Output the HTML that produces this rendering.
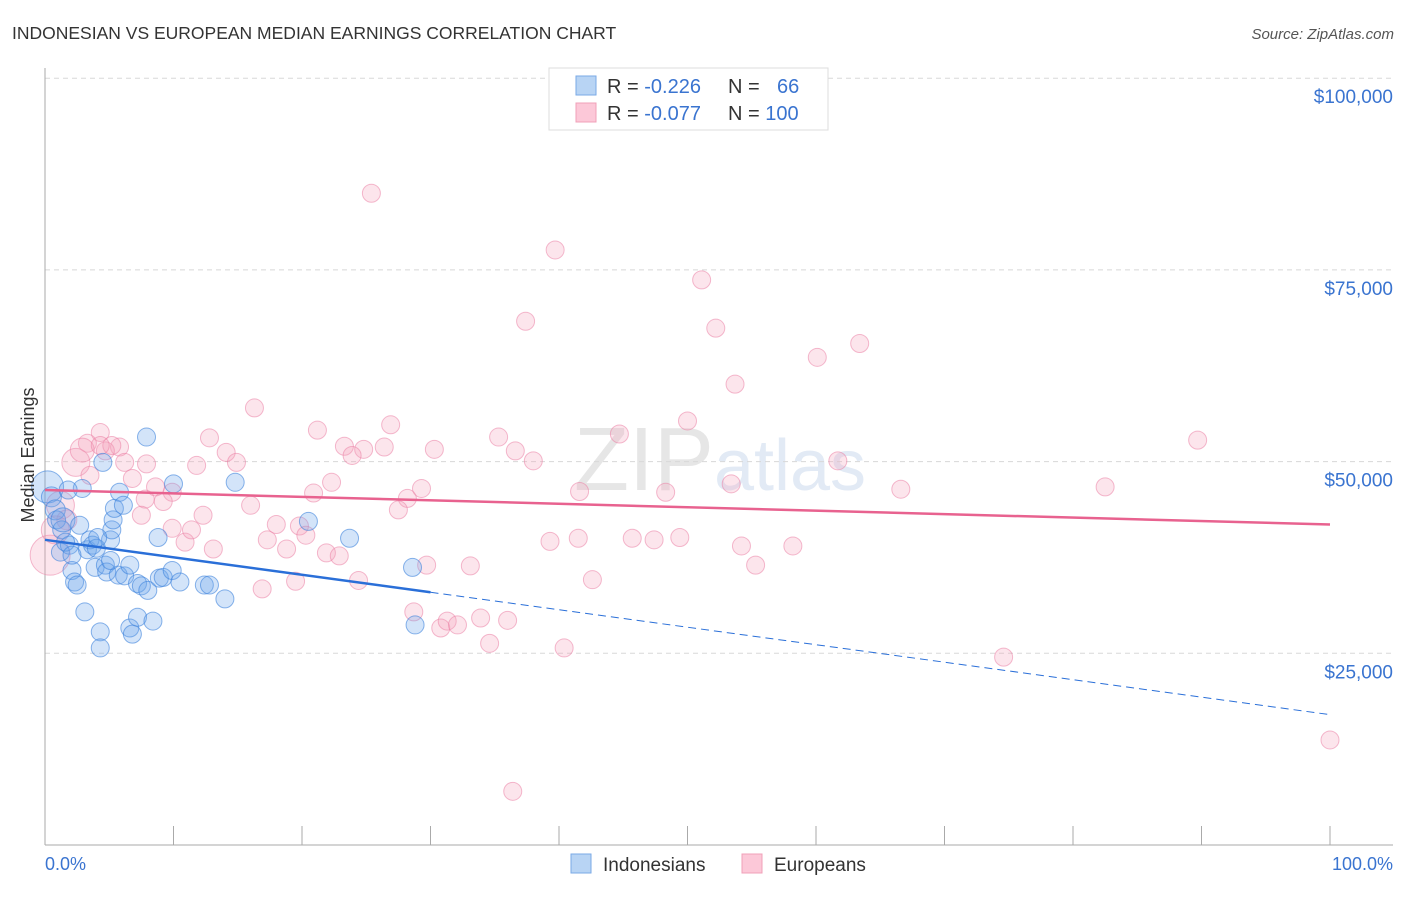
<!DOCTYPE html>
<html><head><meta charset="utf-8"><style>
body{margin:0;background:#fff;font-family:"Liberation Sans",sans-serif;}
svg text{font-family:"Liberation Sans",sans-serif;}
</style></head><body>
<svg id="chart" width="1406" height="892" viewBox="0 0 1406 892">
<text x="12" y="39" font-size="17.5" fill="#333">INDONESIAN VS EUROPEAN MEDIAN EARNINGS CORRELATION CHART</text>
<text x="1394" y="39" font-size="15" fill="#555" font-style="italic" text-anchor="end">Source: ZipAtlas.com</text>
<text x="720" y="490" font-size="90" fill="#e6e6e6" text-anchor="middle" font-family="Liberation Serif"><tspan fill="#e6e6e6">ZIP</tspan><tspan fill="#e2eaf5" font-family="Liberation Sans" font-size="72">atlas</tspan></text>
<g id="grid"></g>
<g id="axes"></g>
<g id="points"></g>
<g id="lines"></g>
<text transform="translate(34,455) rotate(-90)" font-size="18" fill="#333" text-anchor="middle">Median Earnings</text>
<g>
<rect x="549" y="68" width="279" height="62" fill="#fff" stroke="#ddd"/>
<rect x="576" y="76" width="20" height="19" fill="#b8d4f4" stroke="#7aaae6"/>
<rect x="576" y="103" width="20" height="19" fill="#fcc8d8" stroke="#f0a0b8"/>
<text x="607" y="93" font-size="20" fill="#333">R = <tspan fill="#3a74d0">-0.226</tspan></text>
<text x="728" y="93" font-size="20" fill="#333">N = <tspan fill="#3a74d0" x="777">66</tspan></text>
<text x="607" y="120" font-size="20" fill="#333">R = <tspan fill="#3a74d0">-0.077</tspan></text>
<text x="728" y="120" font-size="20" fill="#333">N = <tspan fill="#3a74d0">100</tspan></text>
</g>
<g>
<rect x="571" y="854" width="20" height="19" fill="#b8d4f4" stroke="#7aaae6"/>
<text x="603" y="871" font-size="19" fill="#333">Indonesians</text>
<rect x="742" y="854" width="20" height="19" fill="#fcc8d8" stroke="#f0a0b8"/>
<text x="774" y="871" font-size="19" fill="#333">Europeans</text>
</g>
<text x="45" y="870" font-size="18" fill="#3a74d0">0.0%</text>
<text x="1393" y="870" font-size="18" fill="#3a74d0" text-anchor="end">100.0%</text>
</svg>
<script>
const yTicks=[25000,50000,75000,100000];
const yTickLabels=["$25,000","$50,000","$75,000","$100,000"];
const blueX=[0.2,0.5,0.8,0.9,1.3,1.2,1.9,2.1,2.3,2.5,2.9,3.1,3.3,3.5,3.7,3.9,4.0,4.3,4.3,4.5,4.7,4.8,5.1,5.2,5.3,5.4,5.8,6.1,5.7,6.2,6.6,6.6,6.8,7.2,7.2,7.5,7.9,8.0,8.4,8.8,8.9,9.2,9.9,10.0,10.5,12.4,12.8,14.0,14.8,20.5,23.7,28.6,28.8,1.4,1.6,2.7,1.8,2.1,4.1,5.1];
const blueY=[46.7,45.4,43.7,42.4,41.1,38.2,39.1,35.8,34.3,33.9,46.5,30.4,38.5,39.8,39.1,36.2,38.7,27.8,25.7,49.9,36.5,35.6,39.8,41.1,42.4,43.9,46.0,44.3,35.2,35.1,36.5,28.3,27.5,29.7,34.1,33.8,53.2,33.2,29.2,40.1,34.8,34.9,35.8,47.1,34.3,33.9,33.9,32.1,47.3,42.2,40.0,36.2,28.7,42.4,39.5,41.7,46.3,37.8,40.1,37.1];
const blueR=[16,10,10,9,9,9,9,9,9,9,9,9,9,9,9,9,9,9,9,9,9,9,9,9,9,9,9,9,9,9,9,9,9,9,9,9,9,9,9,9,9,9,9,9,9,9,9,9,9,9,9,9,9,12,9,9,9,9,9,9];
const pinkX=[25.4,39.7,51.1,52.2,37.4,60.1,63.4,53.7,16.3,26.9,21.2,50.0,44.7,35.3,12.8,4.3,3.3,5.8,4.7,14.1,23.3,26.4,24.8,30.3,36.6,23.9,14.9,6.2,7.9,11.8,38.0,61.7,89.7,2.4,2.9,6.8,8.6,9.9,22.3,20.9,29.3,28.2,41.6,48.3,53.4,66.6,82.5,9.2,12.3,16.0,27.5,7.8,19.8,18.0,9.9,10.9,17.3,20.3,18.8,13.1,21.9,22.9,39.3,41.5,45.7,47.4,49.4,54.2,58.2,29.7,33.1,24.4,42.6,55.3,19.5,16.9,28.7,30.8,31.3,32.1,33.9,36.0,34.6,40.4,74.6,100,36.4,0.4,1.2,1.7,3.5,5.2,7.5,11.4,0.8,4.3];
const pinkY=[85.0,77.6,73.7,67.4,68.3,63.6,65.4,60.1,57.0,54.8,54.1,55.3,53.6,53.2,53.1,53.8,52.4,51.9,51.4,51.2,52.0,51.9,51.6,51.6,51.4,50.8,49.9,49.9,49.7,49.5,50.1,50.1,52.8,49.9,51.5,47.8,46.7,46.0,47.3,45.9,46.5,45.2,46.1,46.0,47.1,46.4,46.7,44.8,43.0,44.3,43.7,45.1,41.6,41.8,41.3,39.5,39.8,40.4,38.6,38.6,38.1,37.7,39.6,40.0,40.0,39.8,40.1,39.0,39.0,36.5,36.4,34.5,34.6,36.5,34.4,33.4,30.4,28.3,29.2,28.7,29.6,29.3,26.3,25.7,24.5,13.7,7.0,37.8,44.3,42.4,48.2,52.1,43.0,41.1,41.1,52.1];
const pinkR=[9,9,9,9,9,9,9,9,9,9,9,9,9,9,9,9,9,9,9,9,9,9,9,9,9,9,9,9,9,9,9,9,9,14,12,9,9,9,9,9,9,9,9,9,9,9,9,9,9,9,9,9,9,9,9,9,9,9,9,9,9,9,9,9,9,9,9,9,9,9,9,9,9,9,9,9,9,9,9,9,9,9,9,9,9,9,9,20,14,10,9,9,9,9,14,9];
const blueLine=[39.8,17.0];
const pinkLine=[46.3,41.8];
const blueSolidEnd=30;
const NS="http://www.w3.org/2000/svg";
const X=p=>45+p*12.85;
const Y=v=>845-v*0.007668*1000;
function mk(t,a,parent){const e=document.createElementNS(NS,t);for(const k in a)e.setAttribute(k,a[k]);parent.appendChild(e);return e;}
const grid=document.getElementById('grid'),axes=document.getElementById('axes'),pts=document.getElementById('points'),lines=document.getElementById('lines');
yTicks.forEach((v,i)=>{
 const l=mk('line',{x1:45,x2:1393,y1:Y(v/1000),y2:Y(v/1000),stroke:'#d8d8d8','stroke-dasharray':'5,4'},grid);
 
 
 const t=mk('text',{x:1393,y:Y(v/1000)+25,'font-size':19,fill:'#3a74d0','text-anchor':'end'},axes);
 t.textContent=yTickLabels[i];
 
 
});
const ax=mk('line',{x1:45,x2:45,y1:68,y2:845,stroke:'#aaa'},axes);


const bx=mk('line',{x1:45,x2:1393,y1:845,y2:845,stroke:'#aaa'},axes);


for(let i=0;i<=10;i++){const tk=mk('line',{x1:X(i*10),x2:X(i*10),y1:826,y2:845,stroke:'#aaa'},axes);
 
 }
pinkX.forEach((x,i)=>{const c=mk('circle',{cx:X(x),cy:Y(pinkY[i]),r:pinkR[i],fill:'rgba(244,160,188,0.28)',stroke:'rgba(235,130,165,0.55)','stroke-width':1},pts);
 
 });
blueX.forEach((x,i)=>{const c=mk('circle',{cx:X(x),cy:Y(blueY[i]),r:blueR[i],fill:'rgba(110,165,235,0.3)',stroke:'rgba(60,130,220,0.6)','stroke-width':1},pts);
 
 });
const bv=p=>blueLine[0]+(blueLine[1]-blueLine[0])*p/100;
const b1=mk('line',{x1:X(0),y1:Y(bv(0)),x2:X(blueSolidEnd),y2:Y(bv(blueSolidEnd)),stroke:'#2a6fd8','stroke-width':2.5},lines);


const b2=mk('line',{x1:X(blueSolidEnd),y1:Y(bv(blueSolidEnd)),x2:X(100),y2:Y(bv(100)),stroke:'#2a6fd8','stroke-width':1,'stroke-dasharray':'8,5'},lines);


const p1=mk('line',{x1:X(0),y1:Y(pinkLine[0]),x2:X(100),y2:Y(pinkLine[1]),stroke:'#e8628f','stroke-width':2.5},lines);


</script>
</body></html>
